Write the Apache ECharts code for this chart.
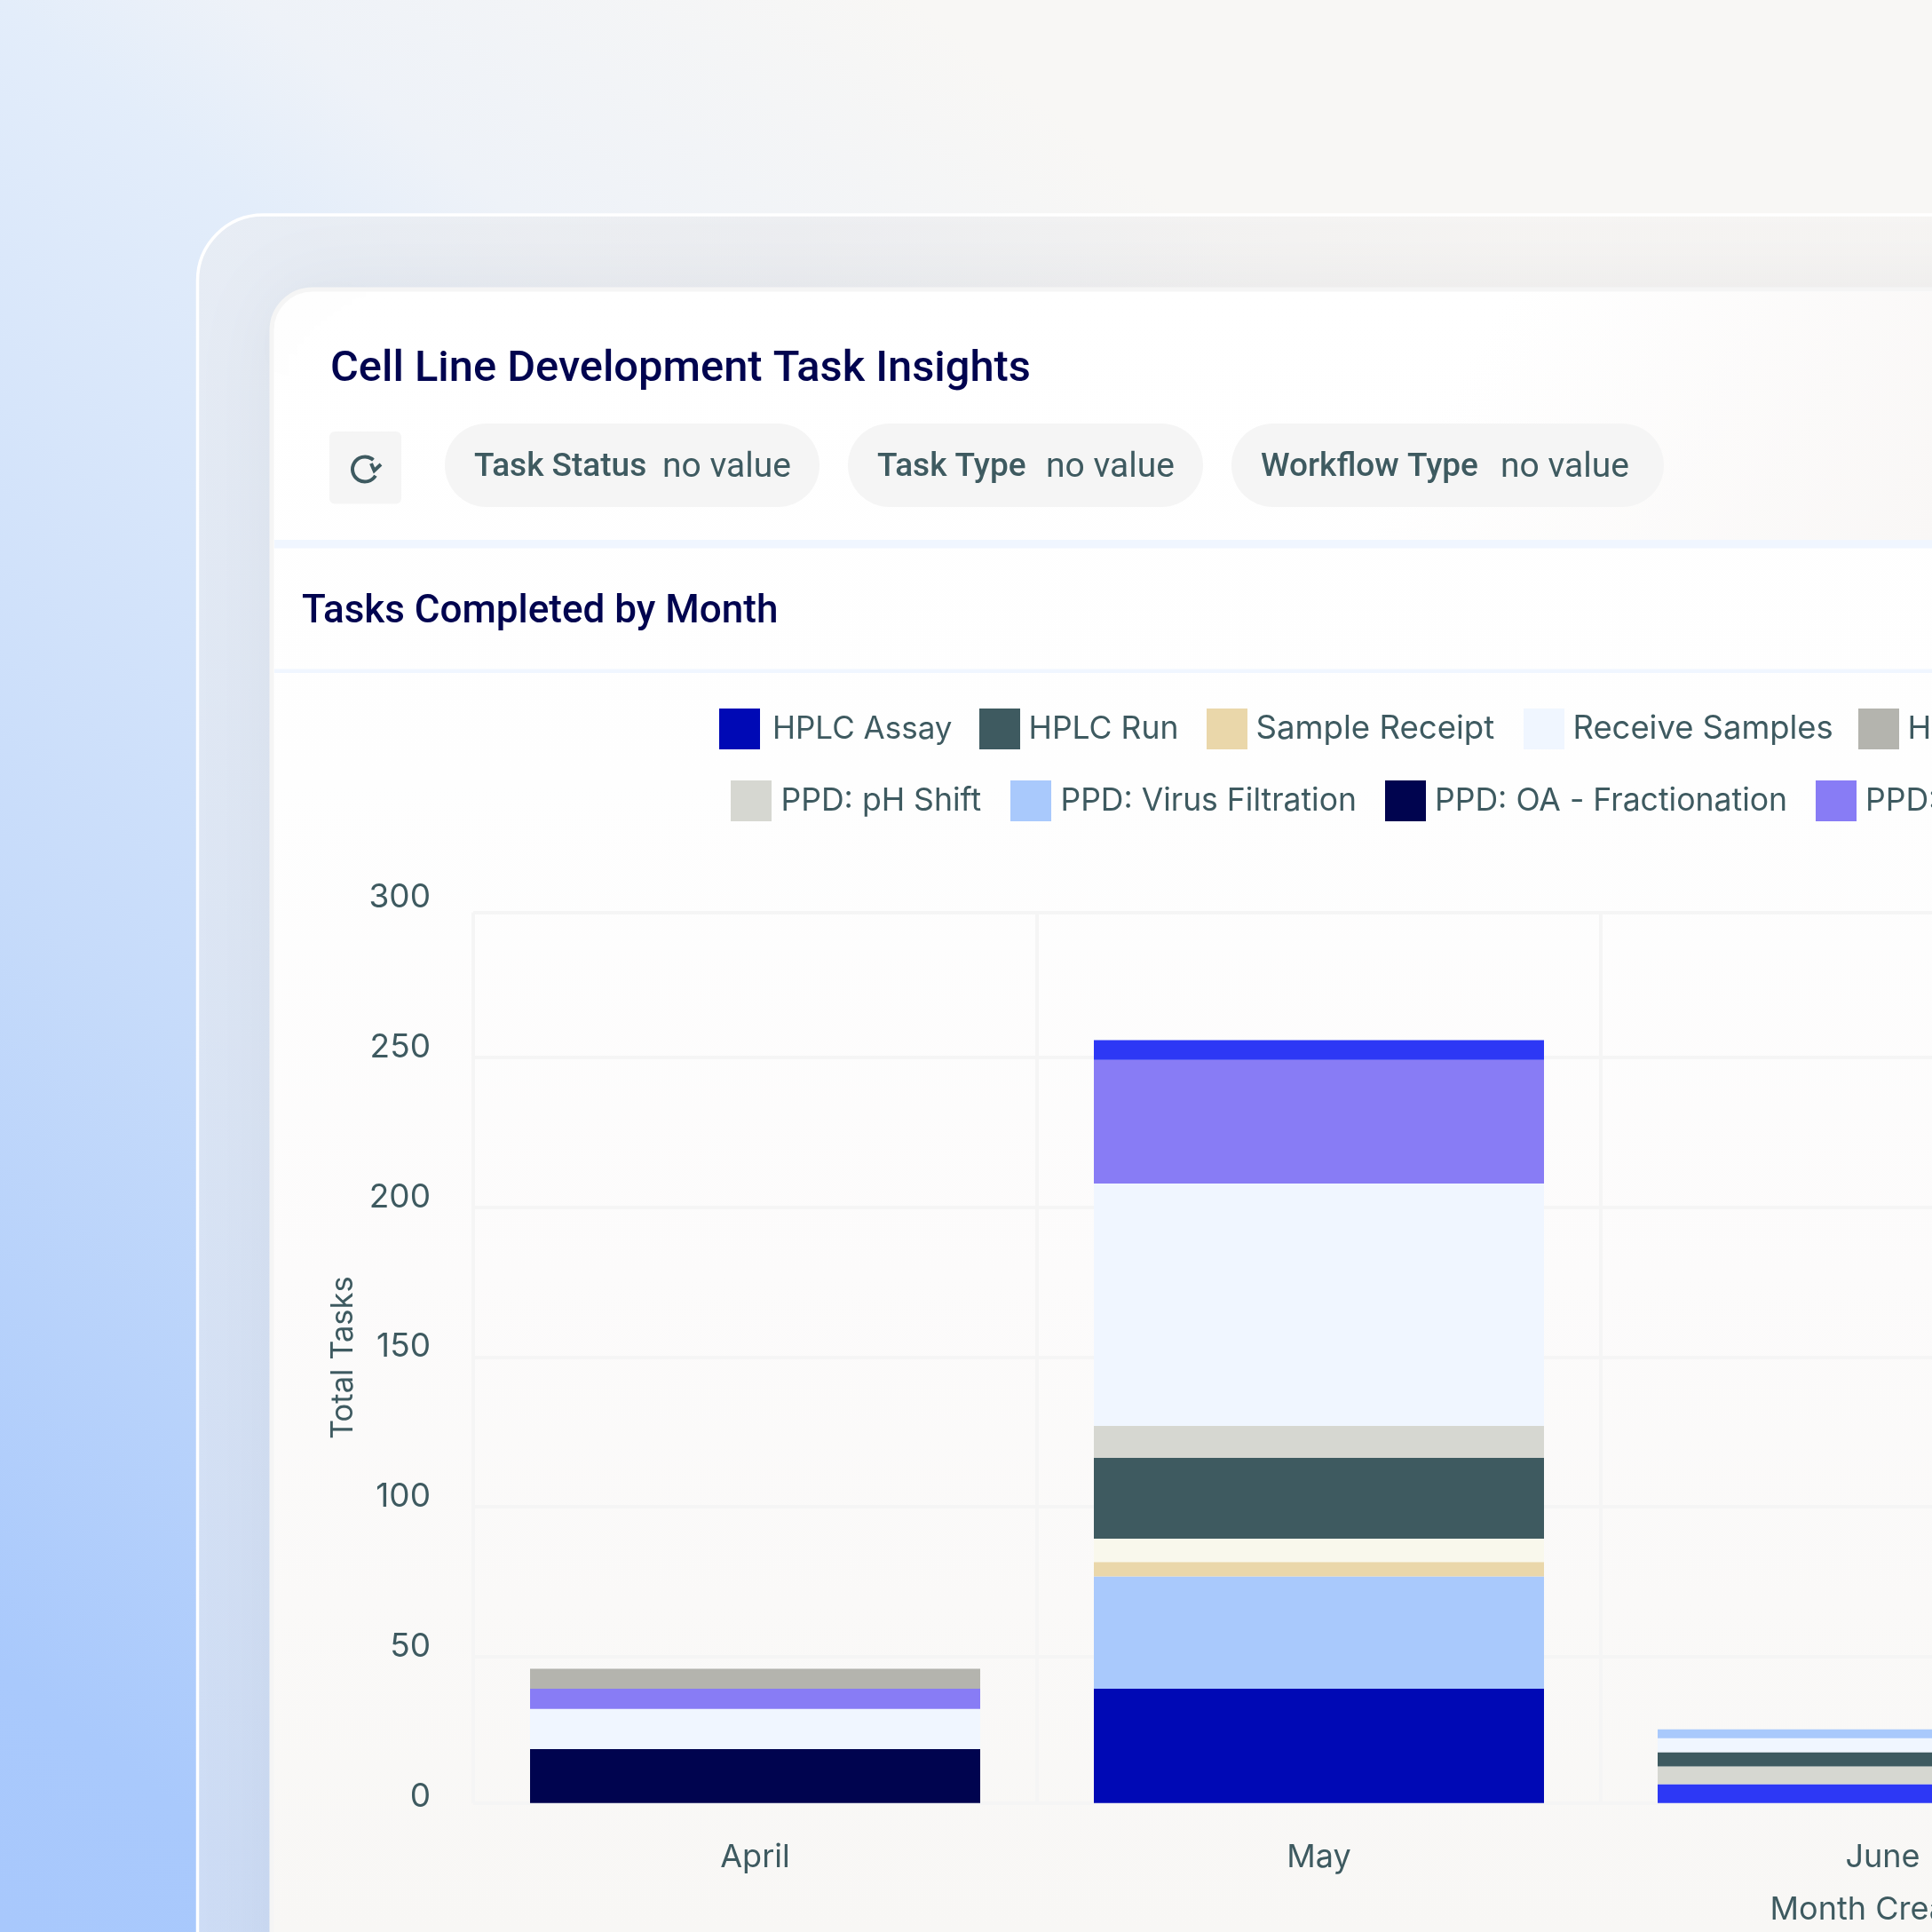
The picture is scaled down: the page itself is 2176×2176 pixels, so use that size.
<!DOCTYPE html>
<html>
<head>
<meta charset="utf-8">
<style>html,body{margin:0;padding:0;overflow:hidden;background:#f8f7f5}#c{width:2176px;height:2176px}</style>
<script src="https://cdn.jsdelivr.net/npm/echarts@6/dist/echarts.min.js"></script>
</head>
<body>
<div id="c"></div>
<script>
const months = ['April', 'May', 'June', ' ', '  '];
const aprilNames = ['PPD: OA - Fractionation', 'Receive Samples', 'PPD:', 'H'];
const aprilValues = [19.2, 13.4, 6.7, 6.7];
const mayNames = ['HPLC Assay', 'PPD: Virus Filtration', 'Sample Receipt', 'Task (unlabelled, cream)', 'HPLC Run', 'PPD: pH Shift', 'Receive Samples', 'PPD:', 'Task (unlabelled, blue)'];
const mayValues = [39.3, 37.5, 4.8, 7.8, 27.0, 10.6, 80.9, 41.3, 6.6];
const juneNames = ['Task (unlabelled, blue)', 'PPD: pH Shift', 'HPLC Run', 'Receive Samples', 'PPD: Virus Filtration'];
const juneValues = [7.5, 5.9, 4.7, 4.7, 3.0];
const filterLabels = ['Task Status', 'Task Type', 'Workflow Type'];
const colors = {
  'HPLC Assay': '#0009B5', 'HPLC Run': '#3E5A60', 'Sample Receipt': '#EAD7AA', 'Receive Samples': '#F0F6FF',
  'H': '#B4B4AE', 'PPD: pH Shift': '#D6D7D1', 'PPD: Virus Filtration': '#A9C9FC', 'PPD: OA - Fractionation': '#00044F',
  'PPD:': '#887CF5', 'Task (unlabelled, blue)': '#2D38F5', 'Task (unlabelled, cream)': '#F9F8EC'
};

const FONT = 'Inter';
const INK = '#3E5A60', NAVY = '#00044F';
const stacks = [[aprilNames, aprilValues], [mayNames, mayValues], [juneNames, juneValues]];
const series = [];
stacks.forEach(([names, values], m) => names.forEach((name, k) => series.push({
  name, type: 'bar', stack: 'tasks', barWidth: 507, itemStyle: { color: colors[name] }, silent: true,
  data: months.map((_, i) => i === m ? values[k] : null)
})));

const legendLayout = [
  ['HPLC Assay', 810, 798, 9, 35], ['HPLC Run', 1103, 798, 4.5, 35.5], ['Sample Receipt', 1359, 798, 4.5, 36.6],
  ['Receive Samples', 1716, 798, 4.5, 36.4], ['H', 2093, 798, 4.5, 36],
  ['PPD: pH Shift', 823, 879, 5.5, 35.6], ['PPD: Virus Filtration', 1138, 879, 5.5, 35.5],
  ['PPD: OA - Fractionation', 1560, 879, 5, 35.6], ['PPD:', 2045, 879, 5, 35.6]
];
const legends = legendLayout.map(([name, left, top, pad, size]) => ({
  data: [name], left, top, padding: 0, itemWidth: 46, itemHeight: 46, selectedMode: false, icon: 'rect',
  textStyle: { color: INK, fontFamily: FONT, fontSize: size, padding: [2, 0, 0, pad] }
}));

const rect = (x, y, w, h, r, fill, extra) => Object.assign({
  type: 'rect', z: -5, silent: true, shape: { x, y, width: w, height: h, r }, style: Object.assign({ fill }, extra || {})
});
const txt = (x, y, text, font, fill) => ({
  type: 'text', z: -4, silent: true, style: { x, y, text, font, fill, verticalAlign: 'middle', align: 'left' }
});
const pills = [[501, 422, 534, 746], [955, 400, 988, 1178], [1387, 487, 1420, 1690]];
const graphics = [
  rect(222.5, 242, 2200, 2200, 74, {
    type: 'linear', x: 222, y: 244, x2: 1700, y2: 330, global: true,
    colorStops: [{ offset: 0, color: 'rgba(236,237,240,0.55)' }, { offset: 0.45, color: 'rgba(232,233,236,0.55)' }, { offset: 1, color: 'rgba(243,241,240,0.45)' }]
  }, { stroke: '#ffffff', lineWidth: 3.5 }),
  rect(306, 326, 2200, 2200, 46, {
    type: 'linear', x: 0, y: 326, x2: 0, y2: 2176, global: true,
    colorStops: [{ offset: 0, color: '#ffffff' }, { offset: 0.3, color: '#fefefe' }, { offset: 0.6, color: '#fcfbfb' }, { offset: 1, color: '#f8f7f5' }]
  }, { stroke: '#f5f5f5', lineWidth: 5, shadowBlur: 90, shadowColor: 'rgba(70,80,100,0.08)' }),
  rect(309, 329, 1867, 279, 0, {
    type: 'linear', x: 1700, y: 330, x2: 2176, y2: 608, global: true,
    colorStops: [{ offset: 0, color: 'rgba(249,247,246,0)' }, { offset: 1, color: '#f9f7f6' }]
  }),
  rect(309, 608, 1867, 9.5, 0, '#F0F6FF'),
  rect(309, 753.5, 1867, 4.5, 0, '#F0F6FF'),
  txt(372, 417, 'Cell Line Development Task Insights', '500 48.8px Roboto', NAVY),
  txt(340, 690, 'Tasks Completed by Month', '500 44px Roboto', NAVY),
  rect(371, 486, 81, 81.5, 6, '#F5F5F5'),
  { type: 'arc', z: -4, silent: true, shape: { cx: 411, cy: 528.5, r: 14, startAngle: 0.55, endAngle: 5.45, clockwise: true },
    style: { stroke: INK, lineWidth: 4, fill: 'none' } },
  { type: 'polyline', z: -4, silent: true, shape: { points: [[418, 522], [421.5, 530], [429, 523]] },
    style: { stroke: INK, lineWidth: 4, fill: 'none' } }
];
pills.forEach(([x, w, tx, vx], i) => {
  graphics.push(rect(x, 477, w, 94, 47, '#F5F5F5'));
  graphics.push(txt(tx, 527, filterLabels[i], '500 37px Roboto', INK));
  graphics.push(txt(vx, 527, 'no value', '400 39px Roboto', INK));
});

const chart = echarts.init(document.getElementById('c'), null, { renderer: 'canvas' });
chart.setOption({
  animation: false,
  backgroundColor: {
    type: 'linear', x: 0, y: 2176, x2: 1463, y2: 347, global: true,
    colorStops: [{ offset: 0, color: '#A8C8FC' }, { offset: 0.1, color: '#A9C9FC' }, { offset: 0.39, color: '#C6DBFA' },
      { offset: 0.725, color: '#E3EDFA' }, { offset: 0.8, color: '#EEF2F8' }, { offset: 1, color: '#F8F7F5' }]
  },
  graphic: { elements: graphics },
  legend: legends,
  grid: { left: 533, top: 1027.7, width: 3175, height: 1003, outerBoundsMode: 'none' },
  xAxis: {
    type: 'category', data: months, name: 'Month Created', nameLocation: 'middle', nameGap: 102,
    nameTextStyle: { color: INK, fontFamily: FONT, fontSize: 36 },
    axisLine: { show: false }, axisTick: { show: false },
    axisLabel: { color: INK, fontFamily: FONT, fontSize: 36, margin: 43, interval: 0 },
    splitLine: { show: true, lineStyle: { color: '#F5F5F5', width: 4 } }
  },
  yAxis: {
    type: 'value', min: 1.185, max: 298.4, splitNumber: 6, name: 'Total Tasks', nameLocation: 'middle', nameGap: 126, nameRotate: 90,
    nameTextStyle: { color: INK, fontFamily: FONT, fontSize: 34.5 },
    axisLine: { show: false }, axisTick: { show: false },
    axisLabel: {
      margin: 48,
      formatter: v => v < 2 ? '{zero|0}' : v > 298 ? '{top|300}' : '{mid|' + v + '}',
      rich: {
        zero: { color: INK, fontFamily: FONT, fontSize: 37, padding: [0, 0, 14.5, 0] },
        mid: { color: INK, fontFamily: FONT, fontSize: 37, padding: [0, 0, 22.5, 0] },
        top: { color: INK, fontFamily: FONT, fontSize: 37, padding: [0, 0, 33.5, 0] }
      }
    },
    splitLine: { show: true, lineStyle: { color: '#F5F5F5', width: 4 } }
  },
  series
});
</script>
</body>
</html>
